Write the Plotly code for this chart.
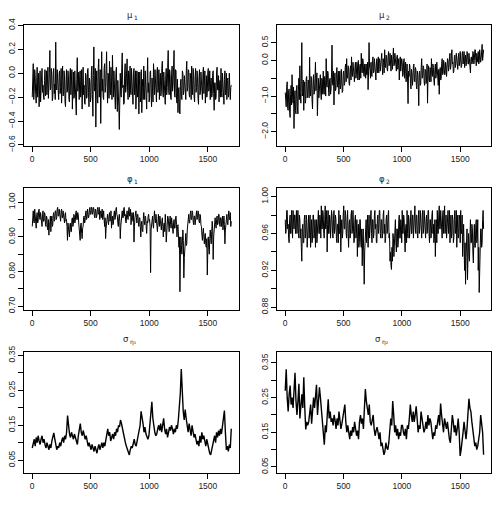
import numpy as np
import plotly.graph_objects as go

# ---- data (estimated from the reference traces) ----
# mu1, mu2, phi1, phi2: 24 values per 100 iterations; sig1, sig2: 12 per 100
mu1 = [
    -0.20, -0.05, 0.08, -0.22, -0.15, 0.03, -0.02, -0.18, -0.25, -0.08, 0.05, -0.20, -0.12, 0.00, -0.28, -0.10, 0.02, -0.24, -0.18, -0.04, 0.04, -0.16, -0.10, -0.20,
    -0.22, -0.06, 0.03, -0.19, -0.08, 0.02, -0.18, -0.04, 0.05, -0.21, -0.15, 0.00, 0.19, -0.14, -0.12, 0.04, -0.02, -0.23, -0.20, 0.01, 0.04, -0.17, -0.09, -0.22,
    0.26, -0.10, -0.14, 0.03, -0.05, -0.20, -0.22, 0.00, 0.02, -0.17, -0.12, 0.04, -0.25, -0.06, 0.06, -0.19, -0.18, 0.02, -0.04, -0.24, -0.28, -0.08, 0.03, -0.16,
    -0.15, 0.02, -0.02, -0.22, -0.24, 0.00, 0.04, -0.18, -0.10, 0.03, -0.30, -0.12, 0.01, -0.21, -0.20, 0.02, -0.08, -0.26, -0.35, -0.05, 0.13, -0.15, -0.12, 0.01,
    -0.22, -0.03, 0.02, -0.20, -0.15, 0.03, -0.30, -0.09, 0.05, -0.18, -0.10, -0.25, -0.26, 0.00, -0.02, -0.21, -0.20, 0.03, 0.04, -0.16, -0.28, -0.04, -0.08, -0.24,
    -0.20, 0.02, 0.06, -0.18, -0.36, -0.02, 0.22, -0.12, -0.15, 0.04, -0.45, -0.08, 0.02, -0.22, -0.25, 0.05, 0.12, -0.20, -0.10, 0.03, -0.42, -0.06, 0.18, -0.15,
    -0.05, -0.20, -0.22, 0.04, 0.08, -0.16, -0.12, 0.02, 0.18, -0.08, -0.25, 0.00, -0.02, -0.21, 0.10, -0.14, -0.18, 0.05, -0.05, -0.22, 0.15, -0.10, -0.20, 0.02,
    -0.08, -0.24, -0.30, 0.00, 0.05, -0.20, -0.32, -0.06, -0.15, -0.28, -0.47, -0.10, 0.00, -0.18, -0.20, 0.04, 0.17, -0.12, -0.10, -0.26, -0.25, 0.02, 0.08, -0.16,
    -0.12, 0.03, 0.12, -0.15, -0.22, 0.02, -0.02, -0.20, 0.06, -0.14, -0.18, 0.04, -0.06, -0.24, -0.26, 0.00, 0.04, -0.18, -0.10, 0.02, -0.30, -0.08, 0.02, -0.20,
    -0.15, 0.01, -0.34, -0.10, 0.01, -0.24, -0.20, 0.03, -0.33, -0.12, -0.05, -0.22, 0.06, -0.14, -0.22, 0.02, -0.10, -0.27, -0.30, -0.04, 0.13, -0.16, -0.08, -0.24,
    -0.20, 0.01, 0.02, -0.18, -0.28, -0.04, -0.10, -0.24, 0.08, -0.12, -0.18, 0.03, -0.05, -0.20, -0.24, 0.02, 0.05, -0.16, -0.12, 0.03, -0.22, -0.06, 0.00, -0.19,
    -0.15, 0.04, 0.10, -0.16, -0.20, 0.01, -0.06, -0.23, -0.26, -0.02, 0.04, -0.18, -0.12, 0.05, 0.19, -0.14, -0.18, 0.03, -0.02, -0.20, -0.22, 0.00, 0.06, -0.15,
    -0.10, 0.05, 0.19, -0.18, -0.20, 0.03, 0.02, -0.22, -0.25, -0.05, -0.33, -0.14, -0.12, -0.30, -0.34, -0.10, -0.05, -0.20, -0.22, 0.02, 0.00, -0.18, -0.15, -0.02,
    -0.08, -0.20, -0.22, 0.02, 0.10, -0.15, -0.12, 0.03, 0.02, -0.18, -0.20, 0.00, -0.05, -0.22, 0.06, -0.10, -0.18, 0.04, -0.02, -0.20, -0.24, -0.04, 0.04, -0.16,
    -0.12, 0.02, -0.03, -0.21, -0.26, -0.04, 0.03, -0.18, -0.15, 0.01, -0.06, -0.22, -0.22, 0.00, 0.05, -0.17, -0.10, 0.02, -0.25, -0.08, -0.02, -0.20, -0.16, 0.01,
    0.04, -0.15, -0.12, 0.02, -0.22, -0.06, -0.04, -0.20, -0.18, 0.00, 0.02, -0.17, -0.31, -0.08, -0.08, -0.22, -0.20, 0.01, 0.05, -0.14, -0.14, -0.02, -0.24, -0.10,
    -0.06, -0.20, 0.04, -0.16, -0.20, 0.00, -0.10, -0.24, -0.26, -0.05, 0.02, -0.18, -0.15, 0.00, -0.22, -0.06, -0.04, -0.20, -0.18, 0.00, -0.08, -0.22, -0.12, -0.10,
]
mu2 = [
    -0.90, -1.20, -1.30, -0.75, -0.60, -1.35, -1.40, -0.85, -0.80, -1.45, -1.60, -0.95, -0.70, -1.25, -0.40, -1.00, -1.20, -0.75, -1.91, -1.10, -0.85, -1.40, -1.50, -0.80,
    -0.70, -1.30, -1.50, -0.85, -0.50, -1.10, -0.15, -0.90, -1.20, -0.60, 0.50, -1.00, -0.90, -0.55, -1.40, -0.75, -0.60, -1.20, -1.10, -0.50, -0.45, -1.05, -0.95, -0.55,
    -0.60, -1.05, 0.09, -0.80, -1.00, -0.45, -0.50, -1.10, -1.36, -0.65, -0.40, -0.95, -0.90, -0.50, -0.05, -0.85, -0.70, -0.35, -1.55, -0.75, -0.50, -1.05, -0.85, -0.40,
    -0.40, -0.95, -1.10, -0.50, -0.55, -0.95, -0.30, -0.85, -0.95, -0.45, -0.60, -1.00, 0.05, -0.70, -0.75, -0.30, -0.35, -0.90, -1.00, -0.55, -0.50, -0.95, -0.80, -0.35,
    0.43, -0.65, -0.70, -0.30, -1.25, -0.55, -0.35, -0.85, -0.80, -0.40, -0.20, -0.75, -0.60, -0.30, -0.95, -0.50, -0.30, -0.80, -0.70, -0.25, -0.45, -0.90, -0.85, -0.35,
    -0.30, -0.70, -0.65, -0.20, -0.10, -0.60, 0.05, -0.45, -0.50, -0.15, -0.20, -0.65, -0.70, -0.30, -0.15, -0.55, 0.10, -0.35, -0.45, -0.05, -0.25, -0.60, -0.60, -0.20,
    -0.05, -0.50, -0.40, -0.05, -0.15, -0.55, 0.00, -0.35, -0.55, -0.15, -0.10, -0.50, 0.20, -0.25, -0.35, 0.05, -0.05, -0.40, -0.45, -0.10, -0.20, -0.50, -0.10, -0.40,
    -0.40, -0.05, -0.82, -0.30, 0.50, -0.20, -0.25, -0.50, -0.05, -0.40, -0.45, 0.00, 0.10, -0.35, -0.30, 0.05, -0.10, -0.45, -0.55, -0.10, 0.05, -0.35, -0.20, 0.10,
    -0.35, 0.05, 0.00, -0.30, -0.15, 0.15, 0.20, -0.20, -0.40, 0.05, -0.05, -0.35, 0.30, -0.10, -0.20, 0.15, 0.10, -0.25, -0.30, 0.10, 0.25, -0.15, -0.10, 0.20,
    -0.05, -0.30, 0.15, -0.20, -0.25, 0.10, 0.35, -0.15, -0.10, 0.20, 0.05, -0.30, -0.30, 0.10, 0.15, -0.25, -0.15, 0.05, -0.55, -0.10, 0.10, -0.30, -0.20, 0.05,
    -0.05, -0.45, -0.40, 0.00, 0.05, -0.50, -0.30, -0.05, -0.60, -0.20, -0.10, -0.55, -1.21, -0.30, -0.45, -0.10, -0.20, -0.65, -0.80, -0.25, -0.35, -0.70, -0.55, -0.15,
    -0.10, -0.55, -0.60, -0.20, -0.25, -0.70, -0.80, -0.30, -0.40, -0.75, -1.27, -0.35, -0.30, -0.70, -0.65, -0.20, 0.05, -0.50, -0.45, -0.15, -0.20, -0.60, -0.70, -0.25,
    -0.30, -0.65, -0.55, -0.10, -1.20, -0.40, -0.15, -0.55, -0.60, -0.20, -0.25, -0.60, 0.05, -0.35, -0.45, -0.10, -0.20, -0.55, -0.70, -0.25, -0.10, -0.50, -0.40, -0.05,
    -0.30, -0.60, -0.70, -0.25, -0.95, -0.35, -0.20, -0.55, -0.50, -0.10, 0.05, -0.40, -0.35, 0.00, -0.10, -0.40, -0.40, -0.05, -0.15, -0.45, -0.30, 0.05, 0.00, -0.30,
    -0.20, 0.10, 0.20, -0.25, -0.15, 0.15, 0.30, -0.10, -0.05, -0.35, -0.30, 0.10, 0.15, -0.20, -0.10, 0.20, 0.05, -0.25, -0.25, 0.10, 0.20, -0.15, -0.05, 0.25,
    0.10, -0.20, -0.15, 0.20, 0.25, -0.10, 0.00, 0.25, -0.20, 0.10, 0.15, -0.15, -0.05, 0.25, 0.20, -0.10, -0.10, 0.20, 0.05, -0.15, -0.35, 0.05, 0.10, -0.10,
    -0.05, 0.25, 0.20, -0.10, 0.00, 0.30, 0.30, 0.00, -0.15, 0.20, 0.10, -0.05, 0.25, -0.10, -0.05, 0.30, 0.15, -0.05, 0.05, 0.30, 0.45, 0.00, 0.10, 0.30,
]
phi1 = [
    0.93, 0.965, 0.975, 0.945, 0.94, 0.98, 0.965, 0.935, 0.925, 0.96, 0.97, 0.94, 0.945, 0.975, 0.98, 0.955, 0.95, 0.97, 0.96, 0.935, 0.93, 0.965, 0.975, 0.945,
    0.945, 0.97, 0.965, 0.935, 0.93, 0.96, 0.955, 0.925, 0.92, 0.95, 0.905, 0.935, 0.94, 0.96, 0.915, 0.945, 0.96, 0.93, 0.935, 0.965, 0.97, 0.945, 0.95, 0.975,
    0.975, 0.95, 0.955, 0.98, 0.985, 0.96, 0.96, 0.98, 0.97, 0.95, 0.945, 0.975, 0.98, 0.955, 0.955, 0.975, 0.965, 0.945, 0.94, 0.965, 0.97, 0.945, 0.95, 0.93,
    0.89, 0.94, 0.925, 0.905, 0.90, 0.935, 0.94, 0.915, 0.915, 0.95, 0.955, 0.93, 0.935, 0.965, 0.96, 0.94, 0.945, 0.97, 0.975, 0.95, 0.95, 0.97, 0.965, 0.94,
    0.925, 0.905, 0.89, 0.935, 0.94, 0.91, 0.895, 0.925, 0.93, 0.955, 0.96, 0.94, 0.945, 0.97, 0.975, 0.95, 0.955, 0.98, 0.97, 0.955, 0.96, 0.98, 0.985, 0.965,
    0.965, 0.985, 0.985, 0.965, 0.97, 0.985, 0.98, 0.96, 0.955, 0.98, 0.975, 0.955, 0.96, 0.98, 0.985, 0.965, 0.97, 0.985, 0.95, 0.97, 0.975, 0.955, 0.965, 0.98,
    0.95, 0.97, 0.975, 0.95, 0.93, 0.955, 0.895, 0.925, 0.94, 0.96, 0.965, 0.945, 0.935, 0.96, 0.97, 0.945, 0.95, 0.975, 0.925, 0.95, 0.96, 0.935, 0.94, 0.965,
    0.975, 0.95, 0.955, 0.98, 0.985, 0.965, 0.96, 0.94, 0.93, 0.955, 0.965, 0.945, 0.895, 0.93, 0.945, 0.97, 0.975, 0.955, 0.955, 0.98, 0.985, 0.96, 0.965, 0.945,
    0.94, 0.965, 0.975, 0.955, 0.95, 0.975, 0.985, 0.96, 0.96, 0.98, 0.935, 0.955, 0.97, 0.95, 0.945, 0.97, 0.885, 0.93, 0.955, 0.975, 0.975, 0.955, 0.94, 0.965,
    0.965, 0.94, 0.93, 0.955, 0.955, 0.93, 0.90, 0.935, 0.945, 0.92, 0.915, 0.95, 0.97, 0.945, 0.935, 0.96, 0.955, 0.93, 0.91, 0.945, 0.94, 0.96, 0.965, 0.945,
    0.95, 0.93, 0.797, 0.92, 0.935, 0.955, 0.96, 0.935, 0.925, 0.955, 0.975, 0.95, 0.94, 0.965, 0.955, 0.93, 0.915, 0.945, 0.965, 0.94, 0.93, 0.96, 0.945, 0.925,
    0.92, 0.945, 0.955, 0.93, 0.90, 0.935, 0.94, 0.915, 0.965, 0.94, 0.885, 0.92, 0.935, 0.96, 0.955, 0.93, 0.915, 0.945, 0.96, 0.935, 0.925, 0.955, 0.945, 0.92,
    0.91, 0.94, 0.95, 0.925, 0.925, 0.955, 0.96, 0.935, 0.90, 0.93, 0.935, 0.905, 0.87, 0.90, 0.742, 0.85, 0.90, 0.875, 0.85, 0.91, 0.92, 0.89, 0.782, 0.84,
    0.86, 0.89, 0.91, 0.875, 0.88, 0.92, 0.93, 0.955, 0.965, 0.94, 0.94, 0.965, 0.975, 0.95, 0.95, 0.975, 0.97, 0.945, 0.935, 0.96, 0.96, 0.935, 0.945, 0.97,
    0.975, 0.95, 0.955, 0.975, 0.97, 0.945, 0.94, 0.965, 0.96, 0.935, 0.93, 0.905, 0.89, 0.915, 0.925, 0.90, 0.88, 0.905, 0.91, 0.875, 0.87, 0.895, 0.79, 0.86,
    0.90, 0.87, 0.85, 0.895, 0.92, 0.895, 0.88, 0.915, 0.945, 0.92, 0.835, 0.90, 0.93, 0.95, 0.955, 0.935, 0.925, 0.95, 0.96, 0.935, 0.94, 0.965, 0.965, 0.94,
    0.93, 0.955, 0.955, 0.93, 0.94, 0.96, 0.92, 0.945, 0.96, 0.935, 0.88, 0.92, 0.945, 0.965, 0.965, 0.94, 0.935, 0.96, 0.975, 0.95, 0.95, 0.97, 0.93, 0.945,
]
phi2 = [
    0.975, 0.96, 0.965, 0.985, 0.985, 0.965, 0.97, 0.955, 0.95, 0.975, 0.98, 0.96, 0.96, 0.985, 0.975, 0.955, 0.985, 0.965, 0.965, 0.98, 0.98, 0.96, 0.97, 0.985,
    0.96, 0.98, 0.985, 0.96, 0.955, 0.98, 0.975, 0.955, 0.965, 0.945, 0.93, 0.965, 0.97, 0.95, 0.95, 0.975, 0.98, 0.955, 0.96, 0.98, 0.975, 0.945, 0.955, 0.975,
    0.98, 0.955, 0.965, 0.98, 0.945, 0.97, 0.975, 0.95, 0.955, 0.98, 0.98, 0.955, 0.96, 0.975, 0.945, 0.965, 0.975, 0.95, 0.965, 0.985, 0.985, 0.96, 0.96, 0.98,
    0.975, 0.955, 0.99, 0.965, 0.965, 0.985, 0.98, 0.96, 0.955, 0.975, 0.99, 0.965, 0.97, 0.985, 0.94, 0.97, 0.985, 0.96, 0.96, 0.98, 0.975, 0.955, 0.965, 0.985,
    0.98, 0.96, 0.955, 0.975, 0.985, 0.96, 0.965, 0.98, 0.975, 0.955, 0.95, 0.97, 0.97, 0.95, 0.985, 0.96, 0.96, 0.98, 0.94, 0.965, 0.975, 0.955, 0.96, 0.98,
    0.99, 0.965, 0.965, 0.985, 0.98, 0.96, 0.955, 0.975, 0.985, 0.96, 0.945, 0.97, 0.975, 0.955, 0.96, 0.98, 0.985, 0.96, 0.965, 0.985, 0.97, 0.95, 0.955, 0.975,
    0.98, 0.955, 0.96, 0.975, 0.935, 0.96, 0.97, 0.945, 0.95, 0.975, 0.975, 0.95, 0.945, 0.965, 0.925, 0.955, 0.965, 0.94, 0.905, 0.94, 0.955, 0.975, 0.975, 0.95,
    0.96, 0.98, 0.945, 0.97, 0.98, 0.955, 0.965, 0.985, 0.985, 0.96, 0.95, 0.975, 0.975, 0.955, 0.96, 0.98, 0.985, 0.965, 0.97, 0.95, 0.95, 0.975, 0.98, 0.96,
    0.965, 0.985, 0.985, 0.96, 0.955, 0.975, 0.975, 0.955, 0.96, 0.98, 0.985, 0.96, 0.97, 0.95, 0.955, 0.975, 0.98, 0.96, 0.965, 0.98, 0.985, 0.955, 0.96, 0.93,
    0.94, 0.925, 0.921, 0.945, 0.93, 0.96, 0.955, 0.935, 0.945, 0.97, 0.975, 0.95, 0.94, 0.965, 0.965, 0.945, 0.95, 0.975, 0.98, 0.955, 0.955, 0.975, 0.97, 0.95,
    0.985, 0.96, 0.96, 0.98, 0.975, 0.955, 0.94, 0.965, 0.97, 0.95, 0.985, 0.96, 0.955, 0.98, 0.975, 0.955, 0.965, 0.985, 0.985, 0.96, 0.96, 0.98, 0.98, 0.955,
    0.97, 0.985, 0.99, 0.965, 0.96, 0.98, 0.98, 0.96, 0.955, 0.975, 0.985, 0.96, 0.965, 0.985, 0.975, 0.955, 0.955, 0.98, 0.985, 0.96, 0.965, 0.985, 0.975, 0.955,
    0.955, 0.975, 0.98, 0.96, 0.965, 0.985, 0.985, 0.96, 0.95, 0.975, 0.975, 0.955, 0.96, 0.98, 0.985, 0.96, 0.97, 0.95, 0.955, 0.975, 0.935, 0.96, 0.975, 0.95,
    0.985, 0.96, 0.96, 0.98, 0.99, 0.965, 0.965, 0.985, 0.975, 0.955, 0.955, 0.98, 0.985, 0.96, 0.97, 0.99, 0.96, 0.975, 0.98, 0.955, 0.965, 0.985, 0.985, 0.96,
    0.97, 0.985, 0.95, 0.97, 0.98, 0.955, 0.96, 0.98, 0.975, 0.95, 0.955, 0.975, 0.985, 0.96, 0.965, 0.985, 0.945, 0.965, 0.98, 0.955, 0.96, 0.98, 0.975, 0.95,
    0.985, 0.96, 0.96, 0.98, 0.935, 0.955, 0.97, 0.94, 0.92, 0.95, 0.905, 0.935, 0.945, 0.965, 0.91, 0.94, 0.96, 0.935, 0.93, 0.955, 0.975, 0.95, 0.95, 0.97,
    0.965, 0.94, 0.928, 0.955, 0.97, 0.945, 0.945, 0.97, 0.975, 0.95, 0.955, 0.975, 0.92, 0.945, 0.896, 0.925, 0.94, 0.965, 0.965, 0.945, 0.95, 0.975, 0.985, 0.965,
]
sig1 = [
    0.085, 0.095, 0.11, 0.09, 0.115, 0.10, 0.12, 0.105, 0.095, 0.11, 0.12, 0.10,
    0.11, 0.095, 0.085, 0.10, 0.09, 0.08, 0.095, 0.085, 0.105, 0.12, 0.128, 0.11,
    0.095, 0.08, 0.09, 0.085, 0.10, 0.09, 0.105, 0.115, 0.10, 0.12, 0.11, 0.13,
    0.178, 0.14, 0.125, 0.115, 0.13, 0.12, 0.11, 0.125, 0.115, 0.10, 0.095, 0.12,
    0.135, 0.155, 0.13, 0.12, 0.135, 0.125, 0.11, 0.12, 0.105, 0.09, 0.10, 0.085,
    0.08, 0.095, 0.085, 0.075, 0.09, 0.08, 0.07, 0.085, 0.095, 0.08, 0.09, 0.10,
    0.085, 0.10, 0.09, 0.105, 0.115, 0.14, 0.12, 0.13, 0.105, 0.115, 0.125, 0.11,
    0.13, 0.12, 0.14, 0.13, 0.15, 0.145, 0.165, 0.155, 0.14, 0.12, 0.11, 0.10,
    0.09, 0.08, 0.075, 0.065, 0.08, 0.09, 0.085, 0.10, 0.11, 0.095, 0.09, 0.105,
    0.12, 0.135, 0.15, 0.19, 0.175, 0.155, 0.13, 0.145, 0.125, 0.115, 0.11, 0.12,
    0.15, 0.19, 0.217, 0.17, 0.14, 0.13, 0.12, 0.125, 0.14, 0.15, 0.135, 0.155,
    0.13, 0.15, 0.17, 0.14, 0.125, 0.14, 0.115, 0.13, 0.145, 0.135, 0.15, 0.14,
    0.125, 0.14, 0.13, 0.15, 0.14, 0.165, 0.20, 0.24, 0.311, 0.22, 0.19, 0.165,
    0.195, 0.17, 0.145, 0.13, 0.155, 0.14, 0.12, 0.15, 0.13, 0.115, 0.125, 0.11,
    0.095, 0.105, 0.09, 0.12, 0.10, 0.13, 0.11, 0.12, 0.10, 0.09, 0.11, 0.095,
    0.085, 0.07, 0.065, 0.08, 0.095, 0.11, 0.12, 0.10, 0.13, 0.115, 0.135, 0.12,
    0.14, 0.125, 0.145, 0.165, 0.192, 0.13, 0.08, 0.09, 0.075, 0.095, 0.085, 0.14,
]
sig2 = [
    0.27, 0.332, 0.25, 0.21, 0.26, 0.285, 0.23, 0.25, 0.22, 0.26, 0.322, 0.24,
    0.20, 0.24, 0.29, 0.19, 0.23, 0.26, 0.22, 0.309, 0.22, 0.158, 0.18, 0.17,
    0.18, 0.20, 0.23, 0.175, 0.21, 0.25, 0.22, 0.27, 0.287, 0.20, 0.24, 0.28,
    0.25, 0.21, 0.18, 0.13, 0.114, 0.17, 0.15, 0.20, 0.245, 0.19, 0.21, 0.18,
    0.19, 0.17, 0.20, 0.185, 0.16, 0.19, 0.17, 0.21, 0.18, 0.16, 0.175, 0.19,
    0.21, 0.23, 0.18, 0.15, 0.17, 0.14, 0.13, 0.155, 0.14, 0.165, 0.15, 0.18,
    0.16, 0.14, 0.155, 0.13, 0.18, 0.20, 0.175, 0.19, 0.16, 0.21, 0.275, 0.24,
    0.22, 0.20, 0.23, 0.18, 0.17, 0.19, 0.20, 0.16, 0.14, 0.155, 0.165, 0.15,
    0.13, 0.15, 0.11, 0.12, 0.10, 0.085, 0.095, 0.12, 0.105, 0.10, 0.12, 0.15,
    0.19, 0.17, 0.24, 0.20, 0.15, 0.17, 0.14, 0.16, 0.13, 0.15, 0.14, 0.17,
    0.17, 0.15, 0.14, 0.16, 0.13, 0.17, 0.16, 0.19, 0.23, 0.20, 0.18, 0.21,
    0.18, 0.20, 0.225, 0.19, 0.15, 0.17, 0.16, 0.21, 0.19, 0.17, 0.15, 0.16,
    0.18, 0.16, 0.20, 0.17, 0.19, 0.18, 0.16, 0.13, 0.15, 0.14, 0.17, 0.16,
    0.18, 0.20, 0.17, 0.233, 0.20, 0.17, 0.15, 0.19, 0.17, 0.16, 0.18, 0.15,
    0.13, 0.12, 0.16, 0.20, 0.18, 0.15, 0.17, 0.14, 0.16, 0.19, 0.15, 0.082,
    0.10, 0.12, 0.15, 0.18, 0.16, 0.13, 0.16, 0.20, 0.247, 0.22, 0.21, 0.18,
    0.16, 0.14, 0.11, 0.12, 0.10, 0.11, 0.13, 0.15, 0.20, 0.17, 0.15, 0.085,
]

# panel titles: base symbol and its subscript
title_base = ["μ", "μ", "φ", "φ", "σ", "σ"]
title_sub = ["1", "2", "1", "2", "η₁", "η₂"]
series = [mu1, mu2, phi1, phi2, sig1, sig2]
x_ticks = [0, 500, 1000, 1500]
y_label_vals = [
    [0.4, 0.2, 0.0, -0.2, -0.4, -0.6],
    [0.5, 0.0, -1.0, -2.0],
    [1.00, 0.90, 0.80, 0.70],
    [1.00, 0.96, 0.92, 0.88],
    [0.35, 0.25, 0.15, 0.05],
    [0.35, 0.25, 0.15, 0.05],
]
y_labels = [
    ["0.4", "0.2", "0.0", "−0.2", "−0.4", "−0.6"],
    ["0.5", "0.0", "−1.0", "−2.0"],
    ["1.00", "0.90", "0.80", "0.70"],
    ["1.00", "0.96", "0.92", "0.88"],
    ["0.35", "0.25", "0.15", "0.05"],
    ["0.35", "0.25", "0.15", "0.05"],
]
y_minor_vals = [
    [],
    [-0.5, -1.5],
    [0.95, 0.85, 0.75],
    [0.98, 0.94, 0.90],
    [0.30, 0.20, 0.10],
    [0.30, 0.20, 0.10],
]

# ---- layout geometry ----
W, H = 498, 510
y_ranges = [[-0.605, 0.405], [-2.39, 1.0], [0.690, 1.042],
            [0.8773, 1.0098], [0.0138, 0.359], [0.033, 0.381]]
x_range = [-67, 1766]
col_px = [(24.3, 239.0), (277.3, 491.3)]
row_px = [(18.3, 142.5), (185.7, 311.3), (355.0, 479.0)]
title_px = [8.0, 176.5, 341.0]
line_w = [1, 1, 1, 1, 1.4, 1.4]

FONT = "Liberation Sans, Arial, sans-serif"
TFONT = "DejaVu Sans, Liberation Sans, sans-serif"
fig = go.Figure()
for i, ys in enumerate(series):
    r, c = divmod(i, 2)
    n = len(ys)
    it = np.linspace(1, 1700, n)
    k = "" if i == 0 else str(i + 1)
    fig.add_trace(go.Scatter(x=it, y=ys, mode="lines",
                             line=dict(color="black", width=line_w[i]),
                             xaxis="x" + k, yaxis="y" + k, showlegend=False,
                             hoverinfo="skip"))
    xd = [col_px[c][0] / W, col_px[c][1] / W]
    yd = [1 - row_px[r][1] / H, 1 - row_px[r][0] / H]
    common = dict(showline=True, mirror=True, linecolor="black", linewidth=1,
                  ticks="outside", ticklen=5, tickwidth=1, tickcolor="black",
                  showgrid=False, zeroline=False,
                  tickfont=dict(family=FONT, size=8.5, color="#222"))
    fig.layout["xaxis" + k] = dict(domain=xd, range=x_range, anchor="y" + k,
                                   tickmode="array", tickvals=x_ticks,
                                   ticktext=[str(v) for v in x_ticks], **common)
    yax = dict(domain=yd, range=y_ranges[i], anchor="x" + k,
               tickmode="array", tickvals=y_label_vals[i], ticktext=y_labels[i],
               tickangle=-90, **common)
    if y_minor_vals[i]:
        yax["minor"] = dict(tickmode="array", tickvals=y_minor_vals[i],
                            ticks="outside", ticklen=5, tickwidth=1,
                            tickcolor="black", showgrid=False)
    fig.layout["yaxis" + k] = yax
    cx = (col_px[c][0] + col_px[c][1]) / 2 / W
    cy = 1 - title_px[r] / H
    shift = 2 if r < 2 else -2
    fig.add_annotation(text=title_base[i], xref="paper", yref="paper",
                       x=cx, y=cy, xshift=shift, showarrow=False, borderpad=0,
                       xanchor="right", yanchor="middle",
                       font=dict(family=TFONT, size=8.5, color="#222"))
    fig.add_annotation(text=title_sub[i], xref="paper", yref="paper",
                       x=cx, y=cy, xshift=shift - 1, yshift=-3,
                       showarrow=False, borderpad=0,
                       xanchor="left", yanchor="middle",
                       font=dict(family=TFONT, size=6, color="#222"))

fig.update_layout(width=W, height=H, margin=dict(l=0, r=0, t=0, b=0),
                  paper_bgcolor="white", plot_bgcolor="white")
fig.write_html("out.html")
